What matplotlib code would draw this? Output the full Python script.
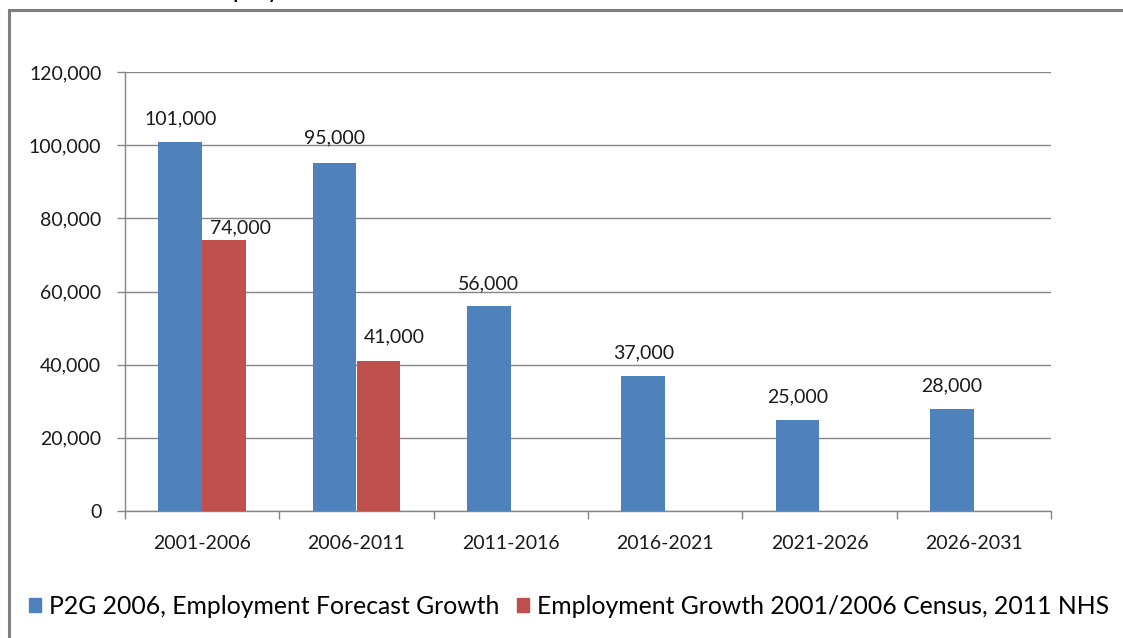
import matplotlib
matplotlib.use("Agg")
import matplotlib.pyplot as plt
import numpy as np
from matplotlib.patches import Rectangle
from matplotlib.lines import Line2D

categories = ["2001-2006", "2006-2011", "2011-2016", "2016-2021", "2021-2026", "2026-2031"]
forecast = [101000, 95000, 56000, 37000, 25000, 28000]
census = [74000, 41000, None, None, None, None]
series_names = ["P2G 2006, Employment Forecast Growth", "Employment Growth 2001/2006 Census, 2011 NHS"]
yticks = [0, 20000, 40000, 60000, 80000, 100000, 120000]
title = "Employment Growth"

plt.rcParams['font.family'] = ['Lato', 'DejaVu Sans']
BLUE = "#4F81BD"
RED = "#C0504D"
GRID = "#868686"
TXT = "#1a1a1a"

fig = plt.figure(figsize=(11.23, 6.38), dpi=100)
fig.patch.set_facecolor("white")

# outer chart frame (top and left visible)
W, H = 1123, 638
fig.add_artist(Line2D([9 / W, 9 / W], [0, 1 - 9.5 / H], color="#7F7F7F", lw=2.2, transform=fig.transFigure))
fig.add_artist(Line2D([9 / W, 1], [1 - 9.5 / H, 1 - 9.5 / H], color="#7F7F7F", lw=2.2, transform=fig.transFigure))

# title, cut off by the top edge in the reference
fig.text(198 / W, 1 + 1.5 / H, title, fontsize=18, va="baseline", ha="left", color="black")

ax = fig.add_axes([125 / W, 1 - 511 / H, (1051 - 125) / W, (511 - 72) / H])
x = np.arange(len(categories))
bw = 0.284
ax.bar(x - bw / 2, forecast, bw, color=BLUE, zorder=3)
cx = [xi + bw / 2 for xi, v in zip(x, census) if v is not None]
cv = [v for v in census if v is not None]
ax.bar(cx, cv, bw, color=RED, zorder=3)

blue_offsets = [(0, 10), (0, 12), (0, 10), (0, 10), (0, 10), (0, 10)]
red_offsets = [(11.5, 3), (11.5, 11.5)]
for xi, v, off in zip(x - bw / 2, forecast, blue_offsets):
    ax.annotate(f"{v:,}", (xi, v), xytext=off, textcoords="offset points",
                ha="center", va="bottom", fontsize=14, color=TXT, zorder=4)
for xi, v, off in zip(cx, cv, red_offsets):
    ax.annotate(f"{v:,}", (xi, v), xytext=off, textcoords="offset points",
                ha="center", va="bottom", fontsize=14, color=TXT, zorder=4)

ax.set_xlim(-0.5, len(categories) - 0.5)
ax.set_ylim(0, 120000)
ax.set_yticks(yticks)
ax.set_yticklabels([f"{t:,}" for t in yticks])
ax.yaxis.grid(True, color=GRID, lw=1, zorder=0)
ax.set_axisbelow(True)

ax.set_xticks(x)
ax.set_xticklabels(categories)
ax.set_xticks(np.arange(-0.5, len(categories)), minor=True)
ax.tick_params(axis="x", which="major", length=0, pad=17, labelsize=14, labelcolor=TXT)
ax.tick_params(axis="x", which="minor", length=6, width=1, color=GRID, direction="out")
ax.tick_params(axis="y", which="major", length=6, width=1, color=GRID, pad=11, labelsize=14, labelcolor=TXT)

for s in ["top", "right"]:
    ax.spines[s].set_visible(False)
for s in ["left", "bottom"]:
    ax.spines[s].set_color(GRID)
    ax.spines[s].set_linewidth(1)

handles = [Rectangle((0, 0), 1, 1, color=BLUE), Rectangle((0, 0), 1, 1, color=RED)]
fig.legend(handles, series_names, loc="center left", bbox_to_anchor=(29 / W, 1 - 606 / H),
           ncol=2, frameon=False, fontsize=17.8, handlelength=0.5, handleheight=0.5,
           handletextpad=0.32, columnspacing=0.7, borderaxespad=0, borderpad=0)

fig.savefig("out.png", dpi=100, facecolor="white")
